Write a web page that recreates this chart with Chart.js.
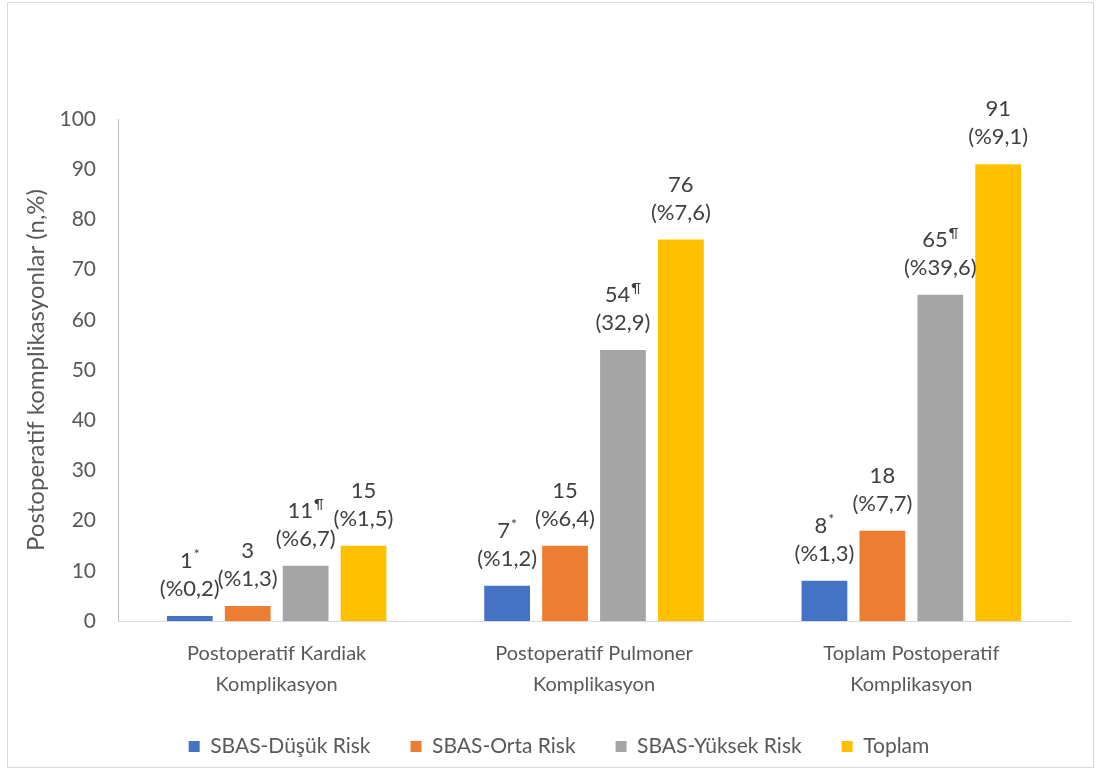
<!DOCTYPE html>
<html>
<head>
<meta charset="utf-8">
<script src="https://cdn.jsdelivr.net/npm/chart.js@4"></script>
<style>
  html, body { margin: 0; padding: 0; background: #fff; }
  #wrap { position: relative; width: 1099px; height: 771px; }
</style>
</head>
<body>
<div id="wrap"><canvas id="c" width="1099" height="771"></canvas></div>
<script>
const categories = [
  ["Postoperatif Kardiak", "Komplikasyon"],
  ["Postoperatif Pulmoner", "Komplikasyon"],
  ["Toplam Postoperatif", "Komplikasyon"]
];
const seriesNames = ["SBAS-Düşük Risk", "SBAS-Orta Risk", "SBAS-Yüksek Risk", "Toplam"];
const lowRisk = [1, 7, 8];
const midRisk = [3, 15, 18];
const highRisk = [11, 54, 65];
const total = [15, 76, 91];
const lowPct = ["(%0,2)", "(%1,2)", "(%1,3)"];
const midPct = ["(%1,3)", "(%6,4)", "(%7,7)"];
const highPct = ["(%6,7)", "(32,9)", "(%39,6)"];
const totalPct = ["(%1,5)", "(%7,6)", "(%9,1)"];
const seriesMarks = ["*", "", "¶", ""];
const yTicks = [0, 10, 20, 30, 40, 50, 60, 70, 80, 90, 100];
const yTitle = "Postoperatif komplikasyonlar (n,%)";

const colors = ["#4472C4", "#ED7D31", "#A5A5A5", "#FFC000"];
const FONT = "Lato, 'Open Sans', sans-serif";
const pctLabels = [lowPct, midPct, highPct, totalPct];
const values = [lowRisk, midRisk, highRisk, total];

const borderPlugin = {
  id: 'outerBorder',
  beforeDraw(chart) {
    const ctx = chart.ctx;
    ctx.save();
    ctx.strokeStyle = '#D9D9D9';
    ctx.lineWidth = 1;
    ctx.strokeRect(7.5, 2.5, 1086, 765);
    ctx.restore();
  },
  afterLayout(chart) {
    if (chart.legend) {
      chart.legend.left += 24;
      chart.legend.right += 24;
    }
  }
};

const labelPlugin = {
  id: 'barLabels',
  afterDatasetsDraw(chart) {
    const ctx = chart.ctx;
    ctx.save();
    ctx.fillStyle = '#404040';
    ctx.textBaseline = 'middle';
    chart.data.datasets.forEach((ds, i) => {
      const meta = chart.getDatasetMeta(i);
      meta.data.forEach((bar, j) => {
        const x = bar.x, y = bar.y;
        const main = String(ds.data[j]);
        const sup = seriesMarks[i];
        ctx.font = "22px " + FONT;
        const wMain = ctx.measureText(main).width;
        ctx.font = "14px " + FONT;
        const wSup = sup ? ctx.measureText(sup).width + 1 : 0;
        const start = x - (wMain + wSup) / 2;
        ctx.textAlign = 'left';
        ctx.font = "22px " + FONT;
        ctx.fillText(main, start, y - 55);
        if (sup) {
          ctx.font = "14px " + FONT;
          ctx.fillText(sup, start + wMain + 1, y - 61);
        }
        ctx.font = "22px " + FONT;
        ctx.textAlign = 'center';
        ctx.fillText(pctLabels[i][j], x, y - 27);
      });
    });
    ctx.restore();
  }
};

new Chart(document.getElementById('c'), {
  type: 'bar',
  data: {
    labels: categories,
    datasets: seriesNames.map((n, i) => ({
      label: n,
      data: values[i],
      backgroundColor: colors[i],
      borderWidth: 0,
      categoryPercentage: 0.73,
      barPercentage: 0.79
    }))
  },
  options: {
    responsive: false,
    animation: false,
    devicePixelRatio: 1,
    layout: { padding: { top: 119, right: 29, bottom: 4, left: 0 } },
    plugins: {
      tooltip: { enabled: false },
      legend: {
        position: 'bottom',
        labels: {
          boxWidth: 11,
          boxHeight: 11,
          padding: 40,
          color: '#595959',
          font: { family: FONT, size: 21 }
        }
      }
    },
    scales: {
      x: {
        grid: { display: false, drawTicks: false },
        border: { display: true, color: '#D9D9D9', width: 1 },
        ticks: { color: '#595959', font: { family: FONT, size: 20, lineHeight: 1.55 }, padding: 17, maxRotation: 0, autoSkip: false },
        afterFit(s) { s.height = 75; }
      },
      y: {
        min: 0,
        max: 100,
        afterBuildTicks(s) { s.ticks = yTicks.map(v => ({ value: v })); },
        grid: { display: false, drawTicks: false },
        border: { display: true, color: '#BFBFBF', width: 1 },
        ticks: { color: '#595959', font: { family: FONT, size: 21 }, padding: 22 },
        title: { display: true, text: yTitle, color: '#595959', font: { family: FONT, size: 24 }, padding: { top: 22, bottom: 0 } },
        afterFit(s) { s.width = 118; }
      }
    }
  },
  plugins: [borderPlugin, labelPlugin]
});
</script>
</body>
</html>
